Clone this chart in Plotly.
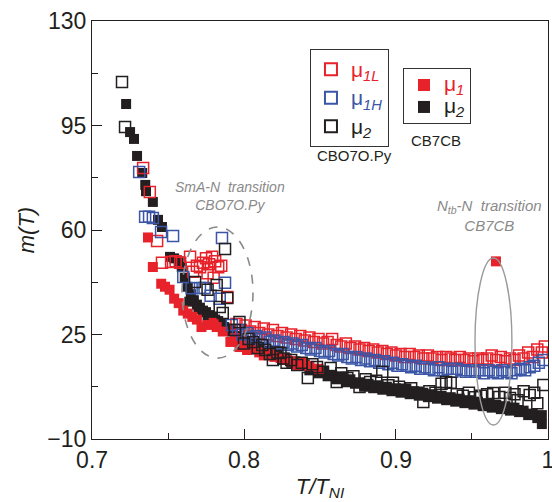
import plotly.graph_objects as go

# CBO7O.Py : mu_1L (red open), mu_1H (blue open), mu_2 (black open)
x_cbo_mu1L = [0.7336, 0.738, 0.7428, 0.746, 0.752, 0.755, 0.758,
              0.7645, 0.7665, 0.769, 0.771, 0.773, 0.775, 0.777, 0.779, 0.781, 0.783, 0.785,
              0.776, 0.780, 0.789,
              0.795, 0.798, 0.801, 0.804, 0.807, 0.810, 0.813, 0.816, 0.819, 0.822,
              0.825, 0.828, 0.831, 0.834, 0.837, 0.840, 0.843, 0.846, 0.849, 0.852,
              0.855, 0.858, 0.861, 0.864, 0.867, 0.870, 0.873, 0.876, 0.879, 0.882,
              0.885, 0.888, 0.891, 0.894, 0.897, 0.900, 0.903, 0.906, 0.909, 0.912,
              0.915, 0.918, 0.921, 0.924, 0.927, 0.930, 0.933, 0.936, 0.939, 0.942,
              0.945, 0.948, 0.951, 0.954, 0.957, 0.960, 0.963, 0.966, 0.969, 0.972,
              0.975, 0.978, 0.981, 0.984, 0.987, 0.990, 0.993, 0.996, 0.998]
y_cbo_mu1L = [80.8, 72.7, 56.3, 49.0, 49.3, 49.5, 49.0,
              51.0, 46.0, 48.0, 47.5, 49.0, 50.5, 48.5, 51.0, 49.5, 47.5, 48.0,
              45.5, 44.0, 37.6,
              28.5, 26.5, 28.0, 26.0, 27.5, 25.5, 27.0, 25.0, 26.5, 24.5,
              25.5, 24.0, 25.0, 23.5, 24.5, 23.0, 24.0, 22.5, 23.5, 22.0,
              22.5, 23.5, 21.5, 21.0, 22.0, 20.5, 21.0, 20.0, 20.5, 19.5,
              20.0, 19.0, 19.5, 18.5, 19.0, 18.0, 18.5, 17.5, 18.5, 17.5,
              18.0, 17.0, 18.0, 17.0, 17.5, 16.5, 17.5, 17.0, 16.5, 17.5,
              16.5, 17.0, 16.0, 17.0, 16.5, 17.0, 18.0, 16.5, 17.5, 16.0,
              17.0, 16.5, 18.0, 17.0, 19.0, 17.5, 20.0, 19.0, 21.0]

x_cbo_mu1H = [0.731, 0.7349, 0.7375, 0.740, 0.7454, 0.7533, 0.760, 0.7655, 0.771,
              0.774, 0.778, 0.7855, 0.7875, 0.784, 0.792,
              0.796, 0.799, 0.802, 0.805, 0.808, 0.811, 0.814, 0.817, 0.820, 0.823,
              0.826, 0.829, 0.832, 0.835, 0.838, 0.841, 0.844, 0.847, 0.850, 0.853,
              0.856, 0.859, 0.862, 0.865, 0.868, 0.871, 0.874, 0.877, 0.880, 0.883,
              0.886, 0.889, 0.892, 0.895, 0.898, 0.901, 0.904, 0.907, 0.910, 0.913,
              0.916, 0.919, 0.922, 0.925, 0.928, 0.931, 0.934, 0.937, 0.940, 0.943,
              0.946, 0.949, 0.952, 0.955, 0.958, 0.961, 0.964, 0.967, 0.970, 0.973,
              0.976, 0.979, 0.982, 0.985, 0.988, 0.991, 0.994, 0.997]
y_cbo_mu1H = [79.4, 64.4, 64.4, 64.0, 59.3, 58.0, 44.3, 40.5, 40.6,
              40.6, 38.0, 57.3, 42.3, 37.0, 28.2,
              26.5, 25.0, 25.5, 24.0, 24.5, 23.5, 24.0, 22.5, 23.0, 22.0,
              22.5, 21.5, 22.0, 21.0, 21.5, 20.5, 20.0, 20.5, 19.5, 19.0,
              19.5, 18.5, 18.0, 18.5, 17.5, 17.0, 17.5, 16.5, 17.0, 16.0,
              16.5, 15.5, 16.0, 15.0, 15.5, 14.5, 15.0, 14.5, 14.0, 14.5,
              13.5, 14.0, 13.5, 13.0, 14.0, 13.0, 13.5, 12.5, 13.5, 13.0,
              12.5, 13.0, 12.5, 13.0, 12.0, 13.0, 12.5, 12.0, 13.0, 12.5,
              12.0, 13.0, 13.5, 13.0, 14.0, 14.5, 15.5, 16.5]

x_cbo_mu2 = [0.7197, 0.7217,
             0.7678, 0.776, 0.782, 0.7875, 0.789, 0.784, 0.786, 0.797, 0.794,
             0.800, 0.803, 0.806, 0.809, 0.812, 0.814, 0.817, 0.819, 0.822, 0.824,
             0.826, 0.828, 0.831, 0.835, 0.838, 0.842, 0.845, 0.848, 0.852, 0.857,
             0.861, 0.864, 0.868, 0.872, 0.876, 0.880, 0.883, 0.887, 0.891, 0.895,
             0.898, 0.902, 0.906, 0.910, 0.914, 0.918, 0.922, 0.926, 0.930, 0.933,
             0.936, 0.940, 0.944, 0.948, 0.952, 0.956, 0.960, 0.964, 0.968, 0.972,
             0.975, 0.978, 0.980, 0.984, 0.988, 0.991, 0.993, 0.997]
y_cbo_mu2 = [109.6, 94.5,
             42.6, 40.0, 41.6, 53.6, 37.2, 34.2, 32.2, 29.2, 26.5,
             22.0, 23.5, 22.5, 20.5, 21.5, 19.8, 18.5, 16.5, 19.0, 18.8,
             17.0, 15.5, 16.5, 14.8, 15.5, 10.4, 15.0, 14.1, 12.5, 13.8,
             9.1, 12.0, 10.4, 11.0, 7.4, 10.0, 9.1, 9.5, 12.5, 8.0,
             8.8, 7.5, 6.5, 7.0, 5.5, 2.4, 6.0, 5.5, 8.5, 9.1,
             8.8, 5.0, 4.5, 5.5, 4.0, 4.5, 5.0, 5.4, 4.1, 5.5,
             3.7, 5.0, 3.0, 6.0, 4.7, 5.5, 2.0, 8.1]

# CB7CB : mu_1 (red filled), mu_2 (black filled)
x_cb7_mu1 = [0.7368, 0.740, 0.7455, 0.748, 0.751, 0.754, 0.757, 0.760, 0.763, 0.766,
             0.769, 0.772, 0.776, 0.780, 0.782, 0.786, 0.791, 0.794, 0.797, 0.800,
             0.802, 0.806, 0.810, 0.813, 0.817, 0.820, 0.824, 0.828, 0.831, 0.835,
             0.839, 0.843, 0.849, 0.9658]
y_cb7_mu1 = [57.5, 47.6, 42.0, 41.0, 40.0, 37.0, 35.5, 33.0, 32.0, 30.9,
             30.0, 27.5, 28.2, 28.9, 27.5, 26.0, 22.5, 23.8, 20.8, 21.5,
             19.8, 20.5, 19.0, 18.0, 18.5, 17.5, 17.1, 16.5, 16.0, 14.8,
             15.5, 14.5, 13.5, 49.5]

x_cb7_mu2 = [0.7224, 0.725, 0.7276, 0.7296, 0.733, 0.735, 0.7355, 0.740, 0.7434, 0.746,
             0.7513, 0.754, 0.757, 0.759, 0.761, 0.763, 0.765, 0.767, 0.769, 0.771,
             0.773, 0.775, 0.777, 0.779, 0.781, 0.783, 0.785, 0.787, 0.789, 0.792,
             0.795, 0.764, 0.770, 0.776,
             0.798, 0.801, 0.804, 0.807, 0.810, 0.813, 0.816, 0.819, 0.822, 0.825,
             0.828, 0.831, 0.834, 0.837, 0.840, 0.843, 0.846, 0.849, 0.852, 0.855,
             0.858, 0.861, 0.864, 0.867, 0.870, 0.873, 0.876, 0.879, 0.882, 0.885,
             0.888, 0.891, 0.894, 0.897, 0.900, 0.903, 0.906, 0.909, 0.912, 0.915,
             0.918, 0.921, 0.924, 0.927, 0.930, 0.933, 0.936, 0.939, 0.942, 0.945,
             0.948, 0.951, 0.954, 0.957, 0.960, 0.963, 0.966, 0.969, 0.972, 0.975,
             0.978, 0.981, 0.984, 0.987, 0.990, 0.993, 0.996, 0.996]
y_cb7_mu2 = [102.2, 92.8, 90.5, 84.8, 79.1, 75.1, 73.0, 69.4, 63.4, 61.0,
             51.0, 50.5, 49.5, 47.6, 44.0, 41.0, 38.5, 36.5, 35.0, 34.0,
             33.0, 32.5, 31.5, 31.0, 30.0, 29.5, 28.5, 27.5, 27.0, 26.0,
             24.5, 36.0, 33.5, 30.5,
             23.0, 21.5, 22.5, 20.0, 20.5, 19.0, 19.5, 18.0, 18.5, 16.5,
             17.0, 15.5, 16.0, 14.5, 15.0, 13.0, 13.5, 12.0, 12.5, 11.0,
             11.5, 10.0, 11.0, 9.0, 10.0, 8.5, 9.0, 7.5, 8.5, 7.0,
             8.0, 6.5, 7.5, 6.0, 7.0, 5.5, 6.5, 5.0, 6.0, 4.5,
             5.5, 4.0, 5.0, 3.5, 4.5, 3.0, 4.0, 2.5, 3.5, 2.0,
             3.0, 1.5, 2.5, 1.0, 2.0, 0.5, 1.5, 0.0, 1.0, -0.5,
             0.5, -1.0, -0.5, -2.0, -1.5, -3.0, -2.0, -5.0]

x_ticks = [0.7, 0.8, 0.9, 1.0]
x_ticklabels = ["0.7", "0.8", "0.9", "1"]
y_ticks = [-10, 25, 60, 95, 130]

RED = "#e8222a"
BLUE = "#3b56a6"
BLACK = "#231f20"
GRAY = "#8a8a8a"
FONT = "Arial, Liberation Sans, sans-serif"


def legend_label(symbol, sub, color, size):
    return (f'<span style="color:{color};font-size:{size}px">'
            f'{symbol}<sub><i>{sub}</i></sub></span>')


fig = go.Figure()

# CB7CB filled squares (drawn underneath)
fig.add_trace(go.Scatter(
    x=x_cb7_mu2, y=y_cb7_mu2, mode="markers", legend="legend2", legendrank=2,
    name=legend_label("μ", "2", BLACK, 21),
    marker=dict(symbol="square", size=10, color=BLACK)))
fig.add_trace(go.Scatter(
    x=x_cb7_mu1, y=y_cb7_mu1, mode="markers", legend="legend2", legendrank=1,
    name=legend_label("μ", "1", RED, 21),
    marker=dict(symbol="square", size=10, color=RED)))

# CBO7O.Py open squares
fig.add_trace(go.Scatter(
    x=x_cbo_mu1L, y=y_cbo_mu1L, mode="markers", legend="legend", legendrank=1,
    name=legend_label("μ", "1L", RED, 21),
    marker=dict(symbol="square-open", size=11, color=RED, line=dict(width=1.5))))
fig.add_trace(go.Scatter(
    x=x_cbo_mu1H, y=y_cbo_mu1H, mode="markers", legend="legend", legendrank=2,
    name=legend_label("μ", "1H", BLUE, 21),
    marker=dict(symbol="square-open", size=11, color=BLUE, line=dict(width=1.5))))
fig.add_trace(go.Scatter(
    x=x_cbo_mu2, y=y_cbo_mu2, mode="markers", legend="legend", legendrank=3,
    name=legend_label("μ", "2", BLACK, 21),
    marker=dict(symbol="square-open", size=11, color=BLACK, line=dict(width=1.5))))

# transition markers
fig.add_shape(type="circle", xref="x", yref="y", x0=0.7592, x1=0.8059, y0=17.1, y1=61.0,
              line=dict(color=GRAY, width=1.6, dash="dash"))
fig.add_shape(type="circle", xref="x", yref="y", x0=0.952, x1=0.9763, y0=-5.3, y1=50.6,
              line=dict(color="#9a9a9a", width=1.4))

fig.add_annotation(x=0.7908, y=71.5, xref="x", yref="y", showarrow=False,
                   text="<i>SmA-N\u00a0\u00a0transition<br>CBO7O.Py</i>",
                   font=dict(family=FONT, size=14, color=GRAY))
fig.add_annotation(x=0.9618, y=64.8, xref="x", yref="y", showarrow=False,
                   text="<i>N<sub>tb</sub>-N\u00a0\u00a0transition<br>CB7CB</i>",
                   font=dict(family=FONT, size=15, color=GRAY))

fig.add_annotation(x=0.5746, y=0.679, xref="paper", yref="paper", showarrow=False,
                   xanchor="center", yanchor="middle",
                   text="CBO7O.Py", font=dict(family=FONT, size=15, color=BLACK))
fig.add_annotation(x=0.754, y=0.715, xref="paper", yref="paper", showarrow=False,
                   xanchor="center", yanchor="middle",
                   text="CB7CB", font=dict(family=FONT, size=15, color=BLACK))

axis_common = dict(showline=True, linecolor=BLACK, linewidth=1.3, mirror=True,
                   ticks="inside", ticklen=10, tickwidth=1.2, tickcolor=BLACK,
                   showgrid=False, zeroline=False, ticklabeloverflow="allow",
                   automargin=False,
                   tickfont=dict(family=FONT, size=23, color=BLACK))

fig.update_xaxes(range=[0.69995, 1.00005], tickvals=x_ticks, ticktext=x_ticklabels,
                 minor=dict(ticks="inside", ticklen=6, tickwidth=1.2, tickcolor=BLACK, dtick=0.05, tick0=0.7),
                 title=dict(text="<i>T/T<sub>NI</sub></i>", standoff=6,
                            font=dict(family=FONT, size=22, color=BLACK)),
                 **axis_common)
fig.update_yaxes(range=[-10, 130], tickvals=y_ticks,
                 minor=dict(ticks="inside", ticklen=6, tickwidth=1.2, tickcolor=BLACK, dtick=17.5, tick0=-10),
                 title=dict(text="<i>m(T)</i>", standoff=6,
                            font=dict(family=FONT, size=22, color=BLACK)),
                 **axis_common)

fig.update_layout(
    width=552, height=502,
    margin=dict(l=92, r=4, t=21, b=63, autoexpand=False),
    plot_bgcolor="white", paper_bgcolor="white",
    font=dict(family=FONT, color=BLACK),
    showlegend=True,
    legend=dict(x=0.478, y=0.933, xanchor="left", yanchor="top",
                bordercolor="#333333", borderwidth=1, bgcolor="white",
                font=dict(family=FONT, size=19.6), traceorder="normal",
                itemsizing="constant"),
    legend2=dict(x=0.682, y=0.8876, xanchor="left", yanchor="top",
                 bordercolor="#333333", borderwidth=1, bgcolor="white",
                 font=dict(family=FONT, size=14.6), traceorder="normal",
                 itemsizing="constant"),
)

fig.write_html("out.html")
